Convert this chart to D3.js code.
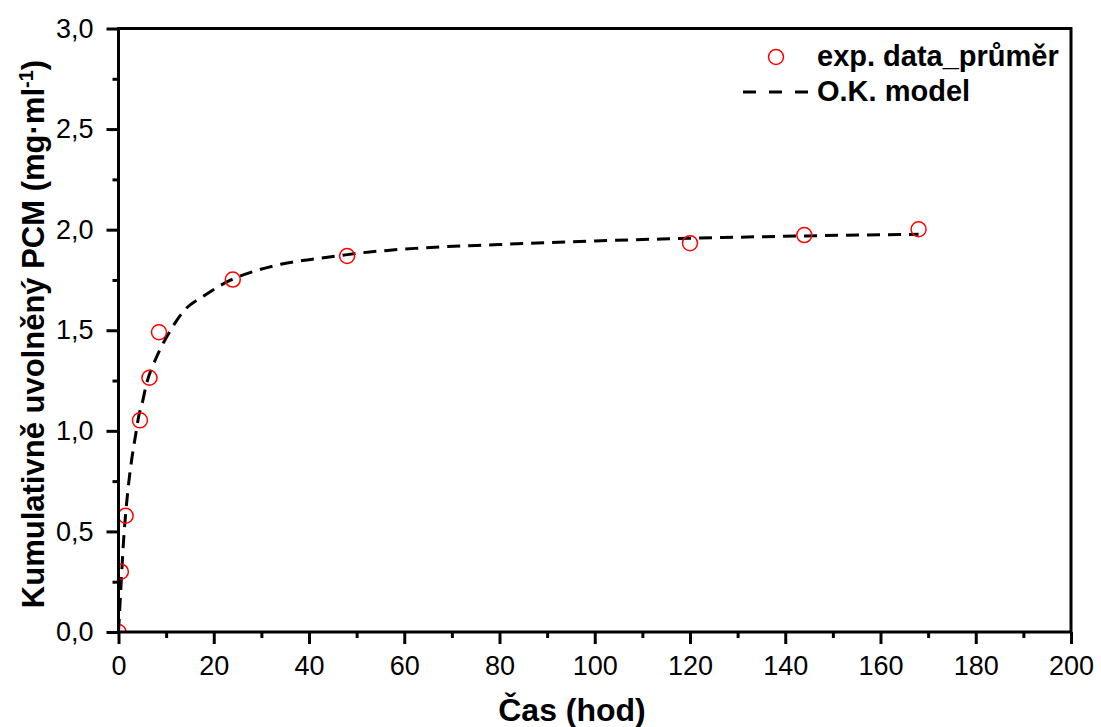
<!DOCTYPE html>
<html><head><meta charset="utf-8">
<script src="https://cdn.jsdelivr.net/npm/d3@7"></script>
<style>body{margin:0;background:#fff}svg{display:block}text{font-family:Arial,"Liberation Sans",sans-serif}</style>
</head><body>
<script>
const timeH = [0, 0.5, 1.5, 4.5, 6.5, 8.5, 24, 48, 120, 144, 168];
const releasePCM = [0, 0.30, 0.578, 1.052, 1.264, 1.49, 1.752, 1.869, 1.933, 1.973, 2.002];
const modelT = [0, 0.5, 1.0, 2.0, 2.7, 3.6, 4.3, 4.9, 5.9, 7.9, 10.6, 13.5, 18.2, 23.6, 28.6, 34.3, 40, 45.9, 51.1, 57, 62.2, 80, 100, 120, 144, 168];
const modelY = [0, 0.22, 0.43, 0.71, 0.845, 0.98, 1.08, 1.13, 1.235, 1.362, 1.486, 1.59, 1.675, 1.75, 1.794, 1.829, 1.851, 1.869, 1.885, 1.898, 1.907, 1.926, 1.944, 1.957, 1.969, 1.977];
const xTicks = [0,20,40,60,80,100,120,140,160,180,200];
const yTicks = [0,0.5,1.0,1.5,2.0,2.5,3.0];
const legendLabels = ["exp. data_průměr", "O.K. model"];

const W = 1101, H = 727;
const L = 118.5, R = 1071, T = 28.5, B = 632;
const svg = d3.select("body").append("svg").attr("width", W).attr("height", H);
const x = d3.scaleLinear().domain([0,200]).range([L,R]);
const y = d3.scaleLinear().domain([0,3]).range([B,T]);
const fmt = d => d3.format(".1f")(d).replace(".", ",");

svg.append("defs").append("clipPath").attr("id","clip")
  .append("rect").attr("x",L).attr("y",T).attr("width",R-L).attr("height",B-T);

// model curve
const line = d3.line().x((d,i)=>x(modelT[i])).y((d,i)=>y(modelY[i])).curve(d3.curveMonotoneX);
svg.append("path").datum(modelY).attr("d", line).attr("fill","none")
  .attr("stroke","#000").attr("stroke-width",3).attr("stroke-dasharray","13,8");

// points
svg.append("g").attr("clip-path","url(#clip)").selectAll("circle").data(timeH).join("circle")
  .attr("cx", d=>x(d)).attr("cy",(d,i)=>y(releasePCM[i])).attr("r",7.5)
  .attr("fill","none").attr("stroke","#ff0000").attr("stroke-width",1.5);

// axes
const xAx = d3.axisBottom(x).tickValues(xTicks).tickSize(12).tickPadding(12).tickFormat(d3.format("d"));
const xMin = d3.axisBottom(x).tickValues(d3.range(10,200,20)).tickSize(6).tickFormat("");
const yAx = d3.axisLeft(y).tickValues(yTicks).tickSize(12).tickPadding(13).tickFormat(fmt);
const yMin = d3.axisLeft(y).tickValues(d3.range(0.25,3,0.5)).tickSize(6).tickFormat("");
function style(g){
  g.select(".domain").remove();
  g.selectAll("line").attr("stroke","#000").attr("stroke-width",3);
  g.selectAll("text").attr("font-size",27).attr("fill","#000").attr("font-family","Arial, 'Liberation Sans', sans-serif");
}
svg.append("g").attr("transform",`translate(0,${B})`).call(xMin).call(style);
svg.append("g").attr("transform",`translate(0,${B})`).call(xAx).call(style);
svg.append("g").attr("transform",`translate(${L},0)`).call(yMin).call(style);
svg.append("g").attr("transform",`translate(${L},0)`).call(yAx).call(style);

svg.append("rect").attr("x",L).attr("y",T).attr("width",R-L).attr("height",B-T)
  .attr("fill","none").attr("stroke","#000").attr("stroke-width",3);

// titles
svg.append("text").attr("x",572).attr("y",721).attr("text-anchor","middle")
  .attr("font-size",32).attr("font-weight","bold").text("Čas (hod)");
const yt = svg.append("text").attr("transform",`translate(44,334) rotate(-90)`)
  .attr("text-anchor","middle").attr("font-size",31).attr("font-weight","bold");
yt.append("tspan").text("Kumulativně uvolněný PCM (mg·ml");
yt.append("tspan").attr("font-size",20).attr("dy",-11).text("-1");
yt.append("tspan").attr("dy",11).text(")");

// legend
const lg = svg.append("g");
lg.append("circle").attr("cx",776).attr("cy",57).attr("r",7.5).attr("fill","none").attr("stroke","#ff0000").attr("stroke-width",1.5);
lg.append("line").attr("x1",743).attr("x2",808).attr("y1",92).attr("y2",92).attr("stroke","#000").attr("stroke-width",3).attr("stroke-dasharray","13,13");
lg.append("text").attr("x",817).attr("y",66).attr("font-size",29).attr("font-weight","bold").text(legendLabels[0]);
lg.append("text").attr("x",817).attr("y",101).attr("font-size",29).attr("font-weight","bold").text(legendLabels[1]);
</script>
</body></html>
